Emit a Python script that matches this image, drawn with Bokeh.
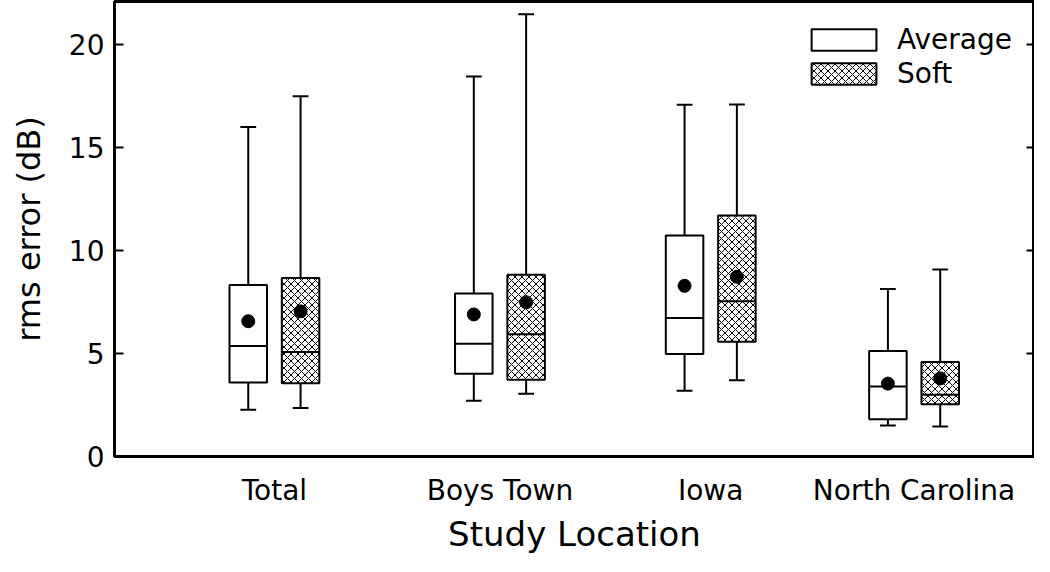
from bokeh.plotting import figure
from bokeh.models import Range1d, LinearAxis, FixedTicker, Legend, LegendItem, ColumnDataSource
from bokeh.embed import file_html
from bokeh.resources import INLINE

# ---- data ----
locations = ["Total", "Boys Town", "Iowa", "North Carolina"]
avg_min = [2.27, 2.71, 3.19, 1.51]
avg_q1 = [3.59, 4.02, 4.98, 1.81]
avg_med = [5.37, 5.48, 6.73, 3.40]
avg_q3 = [8.33, 7.92, 10.73, 5.13]
avg_max = [16.01, 18.46, 17.08, 8.13]
avg_mean = [6.57, 6.90, 8.29, 3.54]

soft_min = [2.35, 3.05, 3.70, 1.46]
soft_q1 = [3.56, 3.73, 5.57, 2.54]
soft_med = [5.08, 5.94, 7.54, 3.00]
soft_q3 = [8.67, 8.83, 11.71, 4.59]
soft_max = [17.50, 21.48, 17.10, 9.08]
soft_mean = [7.05, 7.49, 8.73, 3.79]

y_ticks = [0, 5, 10, 15, 20]

# ---- layout constants ----
group_pos = [162, 390.5, 604, 810]
offset = 26.5
box_w = 38
cap_w = 16
FONT = "DejaVu Sans"

p = figure(width=1034, height=556, output_backend="svg", toolbar_location=None,
           x_range=Range1d(0, 932), y_range=Range1d(0, 22.1),
           min_border_left=114, min_border_right=0, min_border_top=1, min_border_bottom=0)
p.xgrid.visible = False
p.ygrid.visible = False
p.outline_line_color = "black"
p.outline_line_width = 3
p.background_fill_color = "white"
p.border_fill_color = "white"


def build(mins, q1, med, q3, mx, mean, shift):
    xc = [g + shift for g in group_pos]
    return ColumnDataSource(dict(
        x=xc,
        left=[x - box_w / 2 for x in xc], right=[x + box_w / 2 for x in xc],
        cl=[x - cap_w / 2 for x in xc], cr=[x + cap_w / 2 for x in xc],
        lo=mins, q1=q1, med=med, q3=q3, hi=mx, mean=mean))


src_avg = build(avg_min, avg_q1, avg_med, avg_q3, avg_max, avg_mean, -offset)
src_soft = build(soft_min, soft_q1, soft_med, soft_q3, soft_max, soft_mean, offset)

renderers = {}
for name, src in (("avg", src_avg), ("soft", src_soft)):
    p.segment(x0="x", x1="x", y0="q3", y1="hi", source=src, line_color="black", line_width=2)
    p.segment(x0="x", x1="x", y0="lo", y1="q1", source=src, line_color="black", line_width=2)
    p.segment(x0="cl", x1="cr", y0="hi", y1="hi", source=src, line_color="black", line_width=2)
    p.segment(x0="cl", x1="cr", y0="lo", y1="lo", source=src, line_color="black", line_width=2)
    kw = dict(fill_color="white", line_color="black", line_width=2)
    if name == "soft":
        kw.update(hatch_pattern="diagonal_cross", hatch_color="black", hatch_scale=7, hatch_weight=1)
    r = p.quad(left="left", right="right", bottom="q1", top="q3", source=src, **kw)
    renderers[name] = r
    p.segment(x0="left", x1="right", y0="med", y1="med", source=src, line_color="black", line_width=2)
    p.scatter(x="x", y="mean", source=src, size=13, color="black")

# axes
p.yaxis.ticker = FixedTicker(ticks=y_ticks)
p.yaxis.axis_label = "rms error (dB)"
p.yaxis.axis_label_text_font = FONT
p.yaxis.axis_label_text_font_size = "32px"
p.yaxis.axis_label_text_font_style = "normal"
p.yaxis.axis_label_text_color = "black"
p.yaxis.axis_label_standoff = 18
p.yaxis.major_label_text_font = FONT
p.yaxis.major_label_text_font_size = "28px"
p.yaxis.major_label_text_color = "black"
p.yaxis.major_label_standoff = 10
p.yaxis.major_tick_in = 9
p.yaxis.major_tick_out = 0
p.yaxis.major_tick_line_width = 2
p.yaxis.minor_tick_line_color = None
p.yaxis.axis_line_width = 3

p.xaxis.ticker = FixedTicker(ticks=group_pos)
p.xaxis.major_label_overrides = {g: lab for g, lab in zip(group_pos, locations)}
p.xaxis.axis_label = "Study Location"
p.xaxis.axis_label_text_font = FONT
p.xaxis.axis_label_text_font_size = "34px"
p.xaxis.axis_label_text_font_style = "normal"
p.xaxis.axis_label_text_color = "black"
p.xaxis.axis_label_standoff = 4
p.xaxis.major_label_text_font = FONT
p.xaxis.major_label_text_font_size = "28px"
p.xaxis.major_label_text_color = "black"
p.xaxis.major_label_standoff = 11
p.xaxis.major_tick_line_color = None
p.xaxis.minor_tick_line_color = None
p.xaxis.axis_line_width = 3

ry = LinearAxis(ticker=FixedTicker(ticks=y_ticks), major_label_text_font_size="1px",
                major_label_text_color=None, major_label_standoff=0,
                major_tick_in=8, major_tick_out=0,
                major_tick_line_width=2, minor_tick_line_color=None, axis_line_width=3)
p.add_layout(ry, "right")

legend = Legend(items=[LegendItem(label="Average", renderers=[renderers["avg"]]),
                       LegendItem(label="Soft", renderers=[renderers["soft"]])],
                location="top_right", border_line_color=None, background_fill_alpha=0,
                glyph_width=81, glyph_height=27, label_text_font=FONT,
                label_text_font_size="28px", label_text_color="black",
                label_standoff=13, spacing=1, padding=0, margin=22)
p.add_layout(legend)

open("out.html", "w").write(file_html(p, INLINE))
